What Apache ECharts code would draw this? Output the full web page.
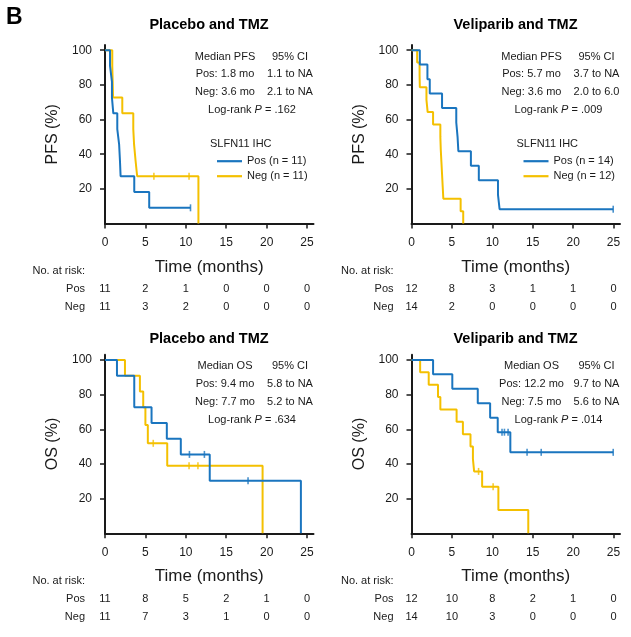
<!DOCTYPE html>
<html>
<head>
<meta charset="utf-8">
<script src="https://cdn.jsdelivr.net/npm/echarts@6/dist/echarts.min.js"></script>
<style>html,body{margin:0;background:#fff}#c{width:631px;height:637px}</style>
</head>
<body>
<div id="c"></div>
<script>
const FONT = '"Liberation Sans", Arial, Helvetica, sans-serif'
const BLUE = '#1a75bf', GOLD = '#f4c000', INK = '#1a1a1a'

// 坐标轴刻度
const xTicks = [0, 5, 10, 15, 20, 25]
const yTicks = [20, 40, 60, 80, 100]

// KM 曲线:[月, 生存%],step:'end' 画阶梯
const pfsPlacPos = [[0,100],[0.62,90.9],[0.86,81.8],[0.86,72.7],[1.03,63.6],[1.52,54.5],[1.75,45.5],[1.85,36.4],[1.93,27.3],[3.62,18.2],[5.47,9.1],[10.58,9.1]]
const pfsPlacNeg = [[0,100],[0.9,90.9],[0.95,81.8],[1.0,72.7],[2.14,63.6],[3.5,54.5],[3.6,45.5],[3.78,36.4],[3.98,27.3],[11.56,0]]
const pfsPlacPosCens = [[10.58,9.1]]
const pfsPlacNegCens = [[6.05,27.3],[10.4,27.3]]
const pfsPlacRiskPos = [11, 2, 1, 0, 0, 0]
const pfsPlacRiskNeg = [11, 3, 2, 0, 0, 0]
const pfsPlacStats = ['Median PFS', '95% CI', 'Pos: 1.8 mo', '1.1 to NA', 'Neg: 3.6 mo', '2.1 to NA', '.162']

const pfsVelPos = [[0,100],[1.03,91.7],[1.97,83.3],[2.26,75],[3.78,66.7],[5.54,58.3],[5.7,50],[5.8,41.7],[7.35,33.3],[8.33,25],[10.7,16.7],[10.9,8.3],[24.96,8.3]]
const pfsVelNeg = [[0,100],[0.7,92.9],[1.0,85.7],[1.03,78.6],[1.85,71.4],[2.0,64.3],[2.67,57.1],[3.57,50],[3.62,42.9],[3.7,35.7],[3.78,28.6],[3.86,21.4],[3.94,14.3],[6.08,7.1],[6.4,0]]
const pfsVelPosCens = [[24.96,8.3]]
const pfsVelNegCens = []
const pfsVelRiskPos = [12, 8, 3, 1, 1, 0]
const pfsVelRiskNeg = [14, 2, 0, 0, 0, 0]
const pfsVelStats = ['Median PFS', '95% CI', 'Pos: 5.7 mo', '3.7 to NA', 'Neg: 3.6 mo', '2.0 to 6.0', '.009']

const osPlacPos = [[0,100],[1.48,90.9],[3.62,81.8],[3.62,72.7],[5.76,63.6],[7.65,54.5],[9.38,45.5],[12.96,30.3],[24.24,0]]
const osPlacNeg = [[0,100],[2.47,90.9],[4.32,81.8],[4.73,72.7],[5.0,62.5],[5.3,51.9],[7.7,38.9],[19.5,0]]
const osPlacPosCens = [[10.45,45.5],[12.3,45.5],[17.7,30.3]]
const osPlacNegCens = [[5.97,51.9],[10.4,38.9],[11.5,38.9]]
const osPlacRiskPos = [11, 8, 5, 2, 1, 0]
const osPlacRiskNeg = [11, 7, 3, 1, 0, 0]
const osPlacStats = ['Median OS', '95% CI', 'Pos: 9.4 mo', '5.8 to NA', 'Neg: 7.7 mo', '5.2 to NA', '.634']

const osVelPos = [[0,100],[2.67,91.7],[5.05,83.3],[8.2,75],[9.73,66.7],[10.67,58.3],[12.23,46.7],[24.96,46.7]]
const osVelNeg = [[0,100],[1.07,92.9],[2.13,85.7],[3.28,78.6],[3.57,71.4],[5.58,64.3],[6.36,57.1],[7.3,50],[7.6,42.9],[7.75,35.7],[8.74,26.8],[10.75,13.4],[14.45,0]]
const osVelPosCens = [[11.2,58.3],[11.5,58.3],[11.95,58.3],[14.3,46.7],[16.05,46.7],[24.96,46.7]]
const osVelNegCens = [[8.3,35.7],[10.1,26.8]]
const osVelRiskPos = [12, 10, 8, 2, 1, 0]
const osVelRiskNeg = [14, 10, 3, 0, 0, 0]
const osVelStats = ['Median OS', '95% CI', 'Pos: 12.2 mo', '9.7 to NA', 'Neg: 7.5 mo', '5.6 to NA', '.014']

// 版面:四个面板
const W = 208.5, H = 178.6
const panels = [
  { left:105,   top:45,    titleY:24.5,  title:'Placebo and TMZ',   yName:'PFS (%)', gap:20,
    pos:pfsPlacPos, neg:pfsPlacNeg, posC:pfsPlacPosCens, negC:pfsPlacNegCens, rp:pfsPlacRiskPos, rn:pfsPlacRiskNeg, stats:pfsPlacStats,
    legend:['Pos (n = 11)', 'Neg (n = 11)'] },
  { left:411.5, top:45,    titleY:24.5,  title:'Veliparib and TMZ', yName:'PFS (%)', gap:18,
    pos:pfsVelPos, neg:pfsVelNeg, posC:pfsVelPosCens, negC:pfsVelNegCens, rp:pfsVelRiskPos, rn:pfsVelRiskNeg, stats:pfsVelStats,
    legend:['Pos (n = 14)', 'Neg (n = 12)'] },
  { left:105,   top:354.7, titleY:338.7, title:'Placebo and TMZ',   yName:'OS (%)', gap:20,
    pos:osPlacPos, neg:osPlacNeg, posC:osPlacPosCens, negC:osPlacNegCens, rp:osPlacRiskPos, rn:osPlacRiskNeg, stats:osPlacStats },
  { left:411.5, top:354.7, titleY:338.7, title:'Veliparib and TMZ', yName:'OS (%)', gap:18,
    pos:osVelPos, neg:osVelNeg, posC:osVelPosCens, negC:osVelNegCens, rp:osVelRiskPos, rn:osVelRiskNeg, stats:osVelStats },
]

const txt = (x, y, text, size, align, extra) => ({
  type:'text', x, y, silent:true,
  style:Object.assign({ text, fill:INK, fontSize:size, fontFamily:FONT, textAlign:align||'center', textVerticalAlign:'middle' }, extra||{})
})

const grid = [], xAxis = [], yAxis = [], series = [], legend = []
const graphic = [txt(6, 18, 'B', 23, 'left', { fontWeight:'bold', fill:'#000' })]

panels.forEach((p, i) => {
  grid.push({ left:p.left, top:p.top, width:W, height:H })
  const base = { gridIndex:i, type:'value', position:'bottom', min:0, max:25.8, splitLine:{ show:false } }
  xAxis.push(Object.assign({}, base, {
    axisLine:{ onZero:false, lineStyle:{ color:INK, width:2 } },
    axisTick:{ customValues:xTicks, length:5, lineStyle:{ color:INK, width:1.5 } },
    axisLabel:{ customValues:xTicks, margin:13, fontSize:12, color:INK, fontFamily:FONT },
    name:'Time (months)', nameLocation:'middle', nameGap:35,
    nameTextStyle:{ fontSize:17, color:INK, fontFamily:FONT }
  }))
  // 风险人数行:借用隐藏的 x 轴,标签对齐刻度
  const row = (offset, name, vals) => Object.assign({}, base, {
    offset, axisLine:{ show:false, onZero:false }, axisTick:{ show:false },
    axisLabel:{ show:!!vals, customValues:xTicks, margin:0, verticalAlign:'middle', fontSize:11, color:INK, fontFamily:FONT,
      formatter:v => vals ? String(vals[xTicks.indexOf(v)]) : '' },
    name, nameLocation:'start', nameGap:p.gap,
    nameTextStyle:{ fontSize:11, color:INK, fontFamily:FONT }
  })
  xAxis.push(row(47.5, 'No. at risk:', null), row(65.5, 'Pos', p.rp), row(83.5, 'Neg', p.rn))

  yAxis.push({
    gridIndex:i, type:'value', min:0, max:103, splitLine:{ show:false },
    axisLine:{ show:true, onZero:false, lineStyle:{ color:INK, width:2 } },
    axisTick:{ show:true, customValues:yTicks, length:5, lineStyle:{ color:INK, width:1.5 } },
    axisLabel:{ customValues:yTicks, margin:13, fontSize:12, color:INK, fontFamily:FONT },
    name:p.yName, nameLocation:'middle', nameGap:44,
    nameTextStyle:{ fontSize:16, color:INK, fontFamily:FONT }
  })

  const xi = i * 4
  const names = p.legend || ['Pos ' + i, 'Neg ' + i]
  const curve = (name, data, color) => ({
    type:'line', name, xAxisIndex:xi, yAxisIndex:i, data, step:'end', symbol:'none',
    lineStyle:{ color, width:2 }, itemStyle:{ color }, animation:false
  })
  const cens = (data, color) => ({
    type:'scatter', xAxisIndex:xi, yAxisIndex:i, data, symbol:'rect', symbolSize:[1.6, 7],
    itemStyle:{ color }, silent:true, animation:false, z:3
  })
  series.push(curve(names[1], p.neg, GOLD), cens(p.negC, GOLD), curve(names[0], p.pos, BLUE), cens(p.posC, BLUE))

  if (p.legend) {
    legend.push({
      orient:'vertical', left:p.left + 112, top:p.top + 110.7, padding:0,
      icon:'path://M0 0H25V2.2H0Z', itemWidth:25, itemHeight:14, itemGap:4, selectedMode:false,
      data:p.legend, textStyle:{ fontSize:11, color:INK, fontFamily:FONT }
    })
    graphic.push(txt(p.left + 105, p.top + 99, 'SLFN11 IHC', 11, 'left'))
  }

  const l = p.left, t = p.top, s = p.stats
  graphic.push(
    txt(l + 104, p.titleY, p.title, 14.5, 'center', { fontWeight:'bold', fill:'#000' }),
    txt(l + 120, t + 11.5, s[0], 11), txt(l + 185, t + 11.5, s[1], 11),
    txt(l + 120, t + 29.3, s[2], 11), txt(l + 185, t + 29.3, s[3], 11),
    txt(l + 120, t + 47,   s[4], 11), txt(l + 185, t + 47,   s[5], 11),
    txt(l + 147, t + 65.3, 'Log-rank {i|P} = ' + s[6], 11, 'center', {
      rich:{ i:{ fontStyle:'italic', fontSize:11, fontFamily:FONT, fill:INK } }
    })
  )
})

const chart = echarts.init(document.getElementById('c'))
chart.setOption({ backgroundColor:'#fff', animation:false, grid, xAxis, yAxis, series, legend, graphic })
</script>
</body>
</html>
